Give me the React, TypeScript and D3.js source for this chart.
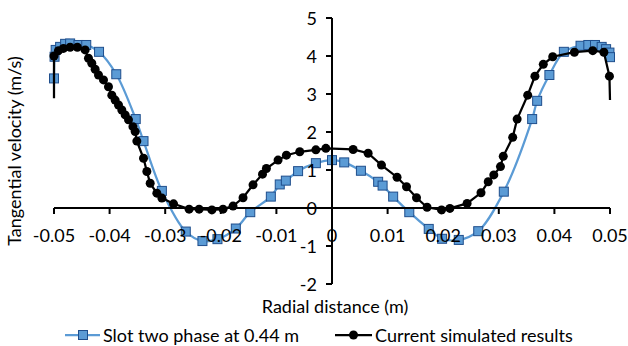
import React from 'react';
import * as d3 from 'd3';

// Slot two phase at 0.44 m (blue, smoothed)
const slotX = [
  -0.05, -0.0499, -0.0497, -0.0489, -0.048, -0.0471, -0.0456, -0.0442, -0.0419, -0.0388,
  -0.0353, -0.0339, -0.0306, -0.0263, -0.0233, -0.0206, -0.0173, -0.0147, -0.011, -0.0094,
  -0.0083, -0.0061, -0.0029, 0, 0.0022, 0.0052, 0.0083, 0.0091, 0.011, 0.0139,
  0.0174, 0.0198, 0.0228, 0.0263, 0.0309, 0.036, 0.0369, 0.0391, 0.0417, 0.0447,
  0.0461, 0.0473, 0.0485, 0.0493, 0.0499, 0.05,
];
const slotY = [
  3.41, 3.98, 4.16, 4.24, 4.32, 4.33, 4.29, 4.29, 4.11, 3.52,
  2.34, 1.76, 0.45, -0.62, -0.87, -0.82, -0.54, -0.11, 0.3, 0.62,
  0.72, 0.97, 1.18, 1.26, 1.2, 0.98, 0.69, 0.59, 0.3, -0.11,
  -0.55, -0.81, -0.84, -0.61, 0.43, 2.34, 2.82, 3.5, 4.11, 4.27,
  4.29, 4.29, 4.24, 4.18, 4.09, 3.97,
];

// Current simulated results (black)
const simX = [
  -0.05, -0.05, -0.0492, -0.0483, -0.0471, -0.0458, -0.0444, -0.0438, -0.0432, -0.0426,
  -0.042, -0.0411, -0.0402, -0.0396, -0.039, -0.0384, -0.0378, -0.0372, -0.0366, -0.0358,
  -0.0354, -0.0351, -0.0339, -0.0333, -0.0327, -0.0315, -0.0306, -0.0285, -0.0257, -0.0239,
  -0.0216, -0.0196, -0.0178, -0.016, -0.0142, -0.0125, -0.0118, -0.0097, -0.0082, -0.0058,
  -0.0029, -0.0011, 0.0038, 0.0065, 0.0089, 0.0117, 0.0134, 0.0152, 0.0171, 0.0197,
  0.0212, 0.0243, 0.0268, 0.0281, 0.0291, 0.0303, 0.0308, 0.0325, 0.0333, 0.0352,
  0.0365, 0.038, 0.0397, 0.0436, 0.0469, 0.0489, 0.0499, 0.05,
];
const simY = [
  2.89, 4.0, 4.14, 4.2, 4.23, 4.23, 4.16, 3.94, 3.81, 3.65,
  3.5, 3.37, 3.19, 2.97, 2.84, 2.71, 2.58, 2.45, 2.32, 2.14,
  2.01, 1.76, 1.31, 0.96, 0.65, 0.39, 0.26, 0.11, -0.03, -0.03,
  -0.05, -0.03, 0.05, 0.27, 0.61, 0.89, 1.04, 1.26, 1.39, 1.48,
  1.53, 1.57, 1.54, 1.44, 1.13, 0.81, 0.56, 0.27, 0.02, -0.05,
  -0.01, 0.12, 0.4, 0.69, 0.87, 1.09, 1.36, 1.86, 2.34, 2.97,
  3.47, 3.78, 3.98, 4.1, 4.14, 4.1, 3.47, 2.84,
];

const xTicks = [-0.05, -0.04, -0.03, -0.02, -0.01, 0, 0.01, 0.02, 0.03, 0.04, 0.05];
const yTicks = [-2, -1, 0, 1, 2, 3, 4, 5];

const seriesNames = ['Slot two phase at 0.44 m', 'Current simulated results'];

const W = 628;
const H = 346;
const FONT = 'Lato, "Open Sans", sans-serif';
const FS = 18;
const BLUE = '#5B9BD5';
const BLUE_EDGE = '#1F4E8C';

type Pt = [number, number];

const App: React.FC = () => {
  const x = d3.scaleLinear().domain([-0.05, 0.05]).range([54, 610]);
  const y = d3.scaleLinear().domain([-2, 5]).range([284, 18]);

  const slot: Pt[] = slotX.map((v, i) => [v, slotY[i]]);
  const sim: Pt[] = simX.map((v, i) => [v, simY[i]]);

  const smooth = d3.line<Pt>()
    .x(d => x(d[0]))
    .y(d => y(d[1]))
    .curve(d3.curveCatmullRom.alpha(0.5));
  const straight = d3.line<Pt>()
    .x(d => x(d[0]))
    .y(d => y(d[1]));

  const x0 = x(0);
  const y0 = y(0);
  const fmt = (v: number) => (v === 0 ? '0' : v.toFixed(2));

  return (
    <svg width={W} height={H} style={{ position: 'absolute', left: 0, top: 0, background: '#fff' }}
      fontFamily={FONT}>
      {/* series */}
      <path d={smooth(slot) || ''} fill="none" stroke={BLUE} strokeWidth={2.25} />
      {slot.map((d, i) => (
        <rect key={`s-${i}`} x={x(d[0]) - 4.5} y={y(d[1]) - 4.5} width={9} height={9}
          fill={BLUE} stroke={BLUE_EDGE} strokeWidth={1} />
      ))}
      <path d={straight(sim) || ''} fill="none" stroke="#000" strokeWidth={2.25} />
      {sim.slice(1, -1).map((d, i) => (
        <circle key={`c-${i}`} cx={x(d[0])} cy={y(d[1])} r={4.5} fill="#000" />
      ))}

      {/* x axis through y = 0 */}
      <line x1={x(-0.05)} x2={x(0.05)} y1={y0} y2={y0} stroke="#000" strokeWidth={2} />
      {xTicks.map(t => (
        <g key={`xt-${t}`}>
          <line x1={x(t)} x2={x(t)} y1={y0} y2={y0 + 6} stroke="#000" strokeWidth={2} />
          <text x={x(t)} y={y0 + 27} textAnchor="middle" dominantBaseline="central"
            fontSize={FS} fill="#000">{fmt(t)}</text>
        </g>
      ))}

      {/* y axis through x = 0 */}
      <line x1={x0} x2={x0} y1={y(-2)} y2={y(5)} stroke="#000" strokeWidth={2} />
      {yTicks.map(t => (
        <g key={`yt-${t}`}>
          <line x1={x0 - 6} x2={x0} y1={y(t)} y2={y(t)} stroke="#000" strokeWidth={2} />
          <text x={x0 - 15} y={y(t)} textAnchor="end" dominantBaseline="central"
            fontSize={FS} fill="#000">{t}</text>
        </g>
      ))}

      {/* axis titles */}
      <text x={335} y={306} textAnchor="middle" dominantBaseline="central" fontSize={FS}>
        Radial distance (m)
      </text>
      <text transform={`translate(14, 151) rotate(-90)`} textAnchor="middle"
        dominantBaseline="central" fontSize={FS}>
        Tangential velocity (m/s)
      </text>

      {/* legend */}
      <g>
        <line x1={65} x2={100} y1={335} y2={335} stroke={BLUE} strokeWidth={2.25} />
        <rect x={78.5} y={330.5} width={9} height={9} fill={BLUE} stroke={BLUE_EDGE} strokeWidth={1} />
        <text x={103} y={335} dominantBaseline="central" fontSize={FS}>{seriesNames[0]}</text>
        <line x1={335} x2={372} y1={335} y2={335} stroke="#000" strokeWidth={2.25} />
        <circle cx={353.5} cy={335} r={4.5} fill="#000" />
        <text x={375} y={335} dominantBaseline="central" fontSize={FS}>{seriesNames[1]}</text>
      </g>
    </svg>
  );
};

export default App;
